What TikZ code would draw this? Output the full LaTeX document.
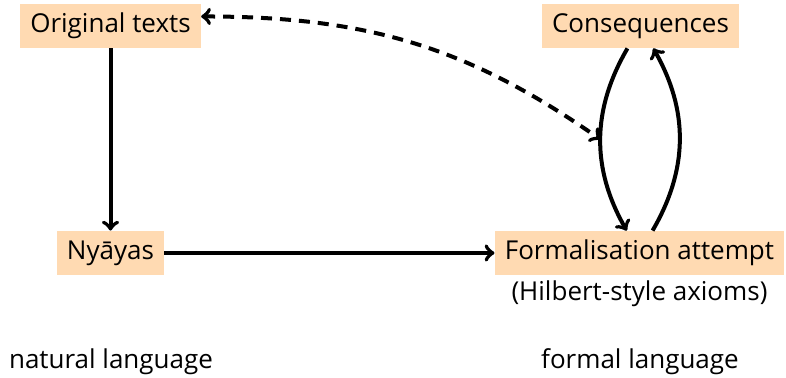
\documentclass[tikz,border=0pt]{standalone}
\usepackage{fontspec}
\setmainfont{Open Sans}
\usepackage{xcolor}
\usetikzlibrary{positioning}
\definecolor{peach}{RGB}{255,218,178}

\begin{document}
\begin{tikzpicture}[x=0.5pt,y=0.5pt,font=\fontsize{13}{15}\selectfont,
	box/.style={fill=peach, inner xsep=5pt, inner ysep=0pt, minimum height=22pt},
	arr/.style={->, line width=2pt}]
\useasboundingbox (0,0) rectangle (786,378);
\node [box] (orig) at (110.5,352) {Original texts};
\node [box] (cons) at (640.5,352) {Consequences};
\node [box] (nyaya) at (110.5,125) {Nyāyas};
\node [box] (form) at (639.5,125) {Formalisation attempt};
\node [below=-1pt of form] (hilb) {(Hilbert-style axioms)};
\node (nat) at (111,16) {natural language};
\node (formal) at (640,16) {formal language};
\draw [arr] (orig) -- (nyaya);
\draw [arr] (nyaya) -- (form);
\draw [arr] (cons) to[bend right=30] coordinate[midway] (mid) (form);
\draw [arr] (form) to[bend right=30] (cons);
\draw [arr, <->, dash pattern=on 5.5pt off 4pt] (orig.6) to[out=0,in=145] (mid);
\end{tikzpicture}
\end{document}
